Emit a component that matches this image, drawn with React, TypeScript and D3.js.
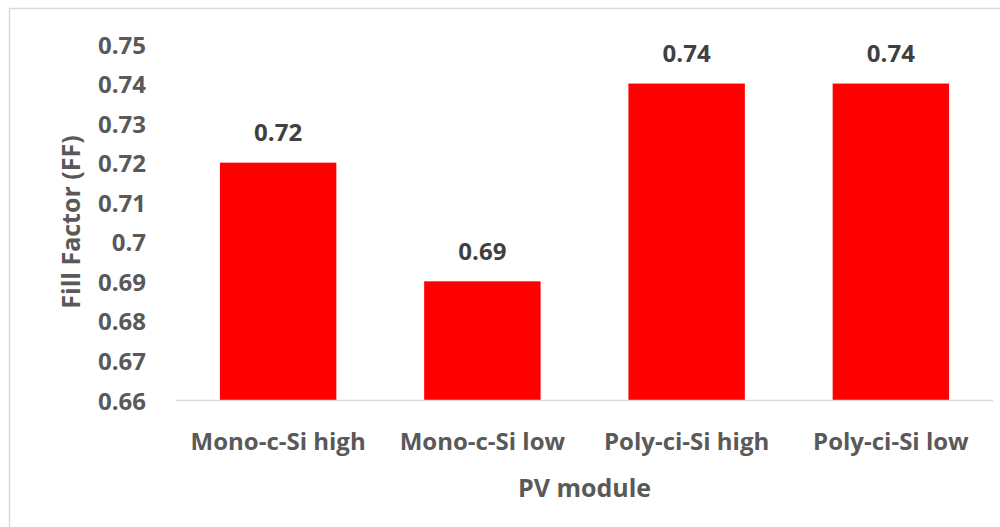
import React from "react";
import * as d3 from "d3";

const categories = ["Mono-c-Si high", "Mono-c-Si low", "Poly-ci-Si high", "Poly-ci-Si low"];
const values = [0.72, 0.69, 0.74, 0.74];
const yTicks = [0.66, 0.67, 0.68, 0.69, 0.7, 0.71, 0.72, 0.73, 0.74, 0.75];
const yDomain = [0.66, 0.75];
const xTitle = "PV module";
const yTitle = "Fill Factor (FF)";

const W = 1000;
const H = 527;
const FONT = "'Open Sans', sans-serif";

export default function App() {
  const left = 176;
  const right = 993;
  const top = 44;
  const bottom = 400;
  const x = d3.scaleBand<string>().domain(categories).range([left, right]).paddingInner(0.43).paddingOuter(0.215);
  const y = d3.scaleLinear().domain(yDomain).range([bottom, top]);

  return (
    <svg
      width={W}
      height={H}
      style={{ position: "fixed", left: 0, top: 0, background: "#fff" }}
      fontFamily={FONT}
    >
      <rect x={0} y={0} width={W} height={H} fill="#fff" />
      {/* chart border (top & left visible) */}
      <path d={`M9.5,${H + 5} V8.5 H${W + 5}`} fill="none" stroke="#d9d9d9" strokeWidth={1.5} />

      {/* y tick labels */}
      {yTicks.map((t) => (
        <text
          key={t}
          x={146}
          y={y(t)}
          textAnchor="end"
          dominantBaseline="central"
          fontSize={24}
          fontWeight={700}
          fill="#595959"
        >
          {d3.format("~g")(t)}
        </text>
      ))}

      {/* bars */}
      {categories.map((c, i) => (
        <rect
          key={c}
          x={x(c)}
          y={y(values[i])}
          width={x.bandwidth()}
          height={bottom - y(values[i])}
          fill="#ff0000"
        />
      ))}

      {/* axis line */}
      <line x1={left} x2={right} y1={bottom + 0.5} y2={bottom + 0.5} stroke="#d9d9d9" strokeWidth={1.5} />

      {/* data labels */}
      {categories.map((c, i) => (
        <text
          key={c + "-lbl"}
          x={(x(c) as number) + x.bandwidth() / 2}
          y={y(values[i]) - 31}
          textAnchor="middle"
          dominantBaseline="central"
          fontSize={24}
          fontWeight={700}
          fill="#404040"
        >
          {values[i].toFixed(2)}
        </text>
      ))}

      {/* category labels */}
      {categories.map((c) => (
        <text
          key={c + "-cat"}
          x={(x(c) as number) + x.bandwidth() / 2}
          y={440}
          textAnchor="middle"
          dominantBaseline="central"
          fontSize={24}
          fontWeight={700}
          fill="#595959"
        >
          {c}
        </text>
      ))}

      {/* x title */}
      <text
        x={(left + right) / 2}
        y={487}
        textAnchor="middle"
        dominantBaseline="central"
        fontSize={25}
        fontWeight={700}
        fill="#595959"
      >
        {xTitle}
      </text>

      {/* y title */}
      <text
        transform={`translate(70,222) rotate(-90)`}
        textAnchor="middle"
        dominantBaseline="central"
        fontSize={25}
        fontWeight={700}
        fill="#595959"
      >
        {yTitle}
      </text>
    </svg>
  );
}
